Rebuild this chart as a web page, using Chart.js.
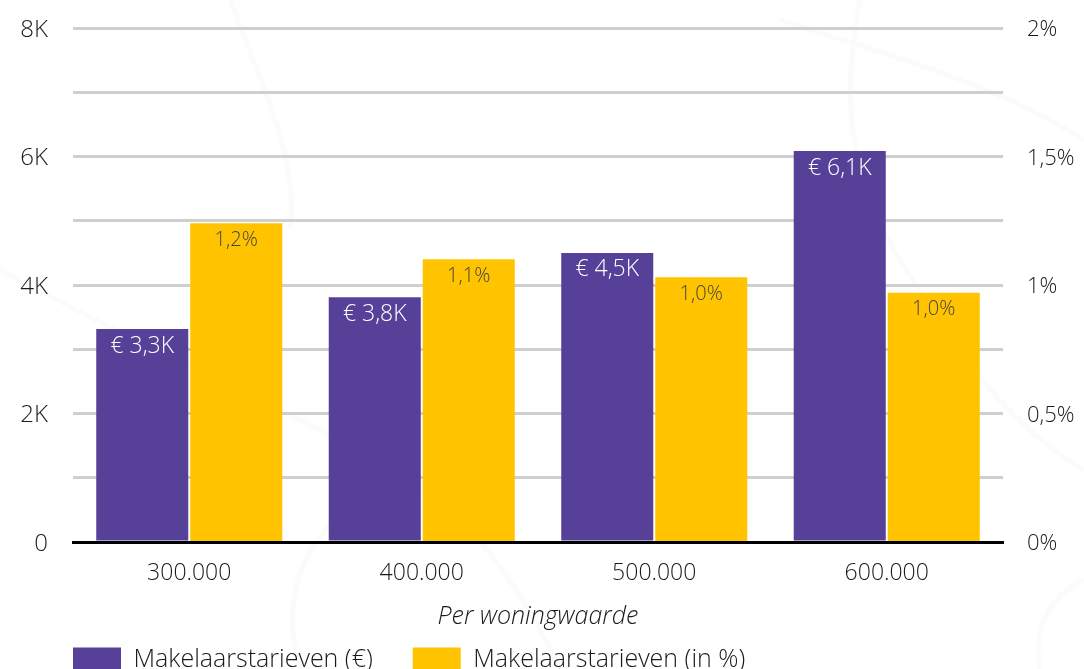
<!DOCTYPE html>
<html>
<head>
<meta charset="utf-8">
<title>Makelaarstarieven</title>
<script src="https://cdn.jsdelivr.net/npm/chart.js@4"></script>
<style>
  html, body { margin: 0; padding: 0; background: #fff; overflow: hidden; }
  canvas { display: block; position: relative; }
  svg { position: absolute; left: 0; top: 0; }
</style>
</head>
<body>
<!-- faint map behind the chart -->
<svg width="1084" height="669" fill="none" stroke="#fbfbfb" stroke-width="5">
  <path d="M0 270 C90 320 200 370 300 420 S480 500 560 669" />
  <path d="M780 20 C870 50 990 80 1084 140" />
  <path d="M860 0 C840 100 850 180 900 260 S1000 420 1084 470" />
  <path d="M300 669 C280 600 300 540 360 500" />
  <path d="M1040 669 C1030 620 1060 590 1084 580" />
  <path d="M230 0 C260 80 300 160 290 230" />
</svg>
<canvas id="chart" width="1084" height="669"></canvas>
<script>
const categories = ["300.000", "400.000", "500.000", "600.000"];
const tarievenEuro = [3315, 3810, 4500, 6085];
const tarievenProcent = [1.24, 1.1, 1.03, 0.97];
const labelsEuro = ["€ 3,3K", "€ 3,8K", "€ 4,5K", "€ 6,1K"];
const labelsProcent = ["1,2%", "1,1%", "1,0%", "1,0%"];
const ticksLeft = { 0: "0", 2000: "2K", 4000: "4K", 6000: "6K", 8000: "8K" };
const ticksRight = { 0: "0%", 0.5: "0,5%", 1: "1%", 1.5: "1,5%", 2: "2%" };

const fontName = "'Open Sans', sans-serif";
const purple = "#574098";
const yellow = "#ffc300";
const textColor = "#1a1a1a";

// labels inside the top of each bar
const barLabels = {
  id: "barLabels",
  afterDatasetsDraw(chart) {
    const ctx = chart.ctx;
    ctx.save();
    ctx.textAlign = "center";
    ctx.textBaseline = "middle";
    chart.data.datasets.forEach(function (ds, i) {
      chart.getDatasetMeta(i).data.forEach(function (bar, j) {
        ctx.font = ds.labelFont;
        ctx.fillStyle = ds.labelColor;
        ctx.fillText(ds.valueLabels[j], bar.x, bar.y + 17);
      });
    });
    ctx.restore();
  },
};

// legend sits under the axis title and runs off the bottom edge, like the original
const placeLegend = {
  id: "placeLegend",
  afterLayout(chart) {
    const padding = chart.legend.options.labels.padding;
    chart.legend.left = 73 - padding;
    chart.legend.top = 647 - padding;
  },
};

// the tick labels should not push the plot area down
function fixAxisWidth(width) {
  return function (scale) {
    scale.width = width;
    scale.paddingTop = 0;
    scale.paddingBottom = 0;
  };
}

new Chart(document.getElementById("chart"), {
  type: "bar",
  data: {
    labels: categories,
    datasets: [
      {
        label: "Makelaarstarieven (€)",
        data: tarievenEuro,
        yAxisID: "y",
        backgroundColor: purple,
        valueLabels: labelsEuro,
        labelFont: "300 23px " + fontName,
        labelColor: "#ffffff",
      },
      {
        label: "Makelaarstarieven (in %)",
        data: tarievenProcent,
        yAxisID: "y1",
        backgroundColor: yellow,
        valueLabels: labelsProcent,
        labelFont: "300 20px " + fontName,
        labelColor: "#444444",
      },
    ],
  },
  options: {
    responsive: false,
    animation: false,
    barPercentage: 0.979,
    categoryPercentage: 0.8086,
    layout: { padding: { top: 28, bottom: -75, left: 0, right: 0 } },
    plugins: {
      tooltip: { enabled: false },
      legend: {
        position: "bottom",
        align: "start",
        labels: {
          boxWidth: 48,
          boxHeight: 24,
          padding: 40,
          color: textColor,
          font: { family: fontName, size: 25, weight: "300" },
        },
      },
    },
    scales: {
      x: {
        grid: { display: false },
        border: { color: "#000000", width: 3, z: 1 },
        ticks: {
          color: textColor,
          padding: 10,
          font: { family: fontName, size: 23, weight: "300" },
        },
        title: {
          display: true,
          text: "Per woningwaarde",
          color: textColor,
          padding: { top: 0, bottom: 37 },
          font: { family: fontName, size: 25, weight: "300", style: "italic" },
        },
        afterFit(scale) {
          scale.height = 127;
        },
      },
      y: {
        position: "left",
        min: 0,
        max: 8000,
        grid: { color: "#cfcfcf", lineWidth: 3, drawTicks: false },
        border: { display: false },
        ticks: {
          stepSize: 1000,
          autoSkip: false,
          padding: 25,
          labelOffset: 2,
          color: textColor,
          font: { family: fontName, size: 24, weight: "300" },
          callback: function (value) {
            return ticksLeft[value] || "";
          },
        },
        afterFit: fixAxisWidth(73),
      },
      y1: {
        position: "right",
        min: 0,
        max: 2,
        grid: { display: false, drawTicks: false },
        border: { display: false },
        ticks: {
          stepSize: 0.25,
          autoSkip: false,
          padding: 24,
          labelOffset: 2,
          color: textColor,
          font: { family: fontName, size: 22, weight: "300" },
          callback: function (value) {
            return ticksRight[value] || "";
          },
        },
        afterFit: fixAxisWidth(81),
      },
    },
  },
  plugins: [barLabels, placeLegend],
});
</script>
</body>
</html>
